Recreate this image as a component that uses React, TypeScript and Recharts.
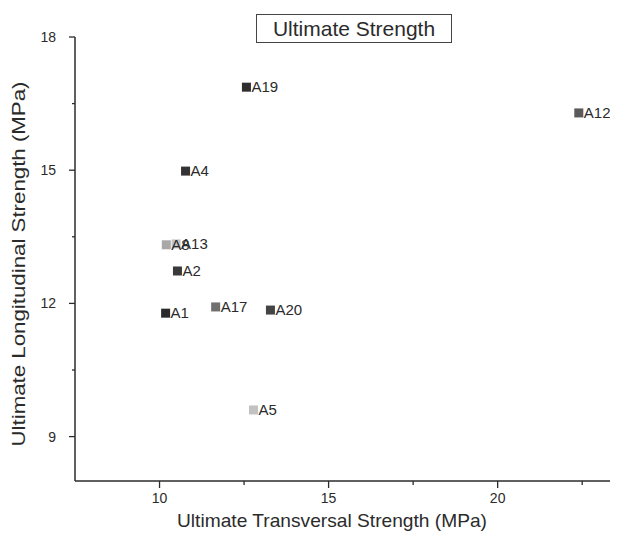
import { ScatterChart, Scatter, XAxis, YAxis } from 'recharts';

// specimen labels and their strengths (MPa)
// (A13 listed before A8 so the A8 label sits on top where they overlap)
const specimens = ['A19', 'A12', 'A4', 'A13', 'A8', 'A2', 'A1', 'A17', 'A20', 'A5'];
const transversal = [12.57, 22.4, 10.77, 10.49, 10.2, 10.53, 10.18, 11.66, 13.28, 12.78];
const longitudinal = [16.87, 16.29, 14.98, 13.34, 13.32, 12.73, 11.78, 11.92, 11.85, 9.6];

const xTicks = [10, 12.5, 15, 17.5, 20, 22.5];
const yTicks = [9, 10.5, 12, 13.5, 15, 16.5, 18];

// scanned print: some markers came out lighter than others
const markerFill: Record<string, string> = {
  A19: '#2e2e2e', A12: '#5a5a5a', A4: '#333', A8: '#a8a8a8', A13: '#c4c4c4',
  A2: '#3a3a3a', A1: '#2a2a2a', A17: '#707070', A20: '#444', A5: '#c2c2c2',
};

const INK = '#2b2b2b';
const FONT = '"Liberation Sans", Arial, sans-serif';

const points = specimens.map((name, i) => ({ name, x: transversal[i], y: longitudinal[i] }));

function XTick({ x, y, payload }: any) {
  const major = payload.value % 5 === 0;
  return (
    <g>
      <line x1={x} x2={x} y1={y} y2={y + (major ? 7 : 4)} stroke={INK} strokeWidth={1.3} />
      {major && (
        <text x={x} y={y + 22} textAnchor="middle" fontSize={14} fill={INK} fontFamily={FONT}>
          {payload.value}
        </text>
      )}
    </g>
  );
}

function YTick({ x, y, payload }: any) {
  const major = payload.value % 3 === 0;
  return (
    <g>
      <line x1={x - (major ? 6 : 3)} x2={x} y1={y} y2={y} stroke={INK} strokeWidth={1.3} />
      {major && (
        <text x={x - 19} y={y + 5} textAnchor="end" fontSize={14} fill={INK} fontFamily={FONT}>
          {payload.value}
        </text>
      )}
    </g>
  );
}

function Marker({ cx, cy, payload }: any) {
  return (
    <g>
      <rect x={cx - 4.5} y={cy - 4.5} width={9} height={9} fill={markerFill[payload.name]} />
      <text x={cx + 5} y={cy + 5} fontSize={15} fill={INK} fontFamily={FONT}>
        {payload.name}
      </text>
    </g>
  );
}

export default function App() {
  return (
    <div style={{ position: 'relative', width: 618, height: 539, margin: -8, background: '#fff', fontFamily: FONT }}>
      <ScatterChart width={618} height={539} margin={{ top: 37, right: 2, bottom: 0, left: 0 }}>
        <XAxis
          type="number"
          dataKey="x"
          domain={[7.5, 23.5]}
          ticks={xTicks}
          allowDataOverflow
          height={58}
          tickSize={0}
          tickMargin={0}
          tickLine={false}
          axisLine={{ stroke: INK, strokeWidth: 1.5 }}
          tick={<XTick />}
          label={() => (
            <text x={332} y={527} textAnchor="middle" fontSize={19} fill={INK} fontFamily={FONT}
              textLength={310} lengthAdjust="spacingAndGlyphs">
              Ultimate Transversal Strength (MPa)
            </text>
          )}
        />
        <YAxis
          type="number"
          dataKey="y"
          domain={[8, 18]}
          ticks={yTicks}
          allowDataOverflow
          width={75}
          tickSize={0}
          tickMargin={0}
          tickLine={false}
          axisLine={{ stroke: INK, strokeWidth: 1.5 }}
          tick={<YTick />}
          label={() => (
            <text x={18} y={264} transform="rotate(-90 18 264)" textAnchor="middle" dominantBaseline="central"
              fontSize={19} fill={INK} fontFamily={FONT} textLength={365} lengthAdjust="spacingAndGlyphs">
              Ultimate Longitudinal Strength (MPa)
            </text>
          )}
        />
        <Scatter data={points} shape={<Marker />} isAnimationActive={false} />
      </ScatterChart>
      <div
        style={{
          position: 'absolute', left: 256, top: 14, width: 196, height: 29, boxSizing: 'border-box',
          border: '1px solid #444', fontSize: 21, lineHeight: '27px', textAlign: 'center', color: INK,
        }}
      >
        Ultimate Strength
      </div>
    </div>
  );
}
